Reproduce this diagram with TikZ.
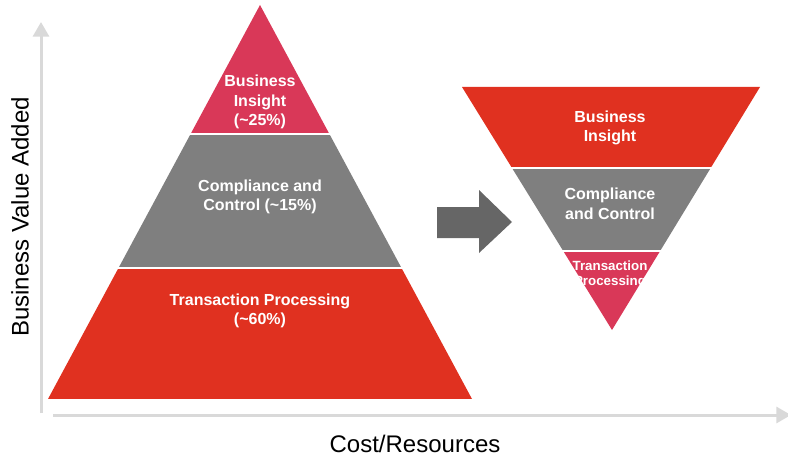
\documentclass[tikz,border=0pt]{standalone}
\usepackage{fontspec}
\setmainfont{Liberation Sans}
\usepackage{xcolor}
\usepackage{tikz}
\usetikzlibrary{arrows.meta,positioning}

\definecolor{tierred}{HTML}{E03120}
\definecolor{tierpink}{HTML}{D93858}
\definecolor{tiergray}{HTML}{7F7F7F}
\definecolor{shiftgray}{HTML}{666666}
\definecolor{axisgray}{HTML}{D9D9D9}

\begin{document}
\begin{tikzpicture}[
    x=0.75pt, y=-0.75pt,
    tier/.style={text=white, font=\fontsize{12}{14.6}\selectfont\bfseries, align=center},
    smalltier/.style={text=white, font=\fontsize{10}{11.3}\selectfont\bfseries, align=center},
    axis/.style={-{Triangle[width=12pt,length=11pt]}, axisgray, line width=2.25pt},
    axislabel/.style={font=\fontsize{18}{20}\selectfont}
]
    \useasboundingbox (0,0) rectangle (788,456);

    % Axes
    \coordinate (yfoot) at (41,413);
    \coordinate (ytop) at (41,22);
    \coordinate (xfoot) at (53,415);
    \coordinate (xend) at (791,415);
    \draw[axis] (yfoot) -- (ytop);
    \draw[axis] (xfoot) -- (xend);
    \node[axislabel, rotate=90] (vlabel) at (20,217) {Business Value Added};
    \node[axislabel] (clabel) at (415,444) {Cost/Resources};

    % Pyramid (today)
    \begin{scope}
        \clip (260,5) -- (472,399) -- (48,399) -- cycle;
        \fill[tierpink] (0,0) rectangle (788,133);
        \fill[tiergray] (0,135) rectangle (788,267);
        \fill[tierred] (0,269) rectangle (788,399);
    \end{scope}
    \node[tier] (insight) at (260,102) {Business\\Insight\\(\textasciitilde25\%)};
    \node[tier] (compliance) at (260,197) {Compliance and\\Control (\textasciitilde15\%)};
    \node[tier] (transaction) at (260,311) {Transaction Processing\\(\textasciitilde60\%)};

    % Shift arrow
    \fill[shiftgray] (437,207) -- (479,207) -- (479,190) -- (512,222) -- (479,253)
        -- (479,238) -- (437,238) -- cycle;

    % Inverted pyramid (target)
    \begin{scope}
        \clip (462,87) -- (760,87) -- (612,330) -- cycle;
        \fill[tierred] (400,0) rectangle (788,167);
        \fill[tiergray] (400,169) rectangle (788,250);
        \fill[tierpink] (400,252) rectangle (788,340);
    \end{scope}
    \node[tier] (newinsight) at (610,128) {Business\\Insight};
    \node[tier] (newcompliance) at (610,204) {Compliance\\and Control};
    \node[smalltier] (newtransaction) at (610,275) {Transaction\\Processing};
\end{tikzpicture}
\end{document}
